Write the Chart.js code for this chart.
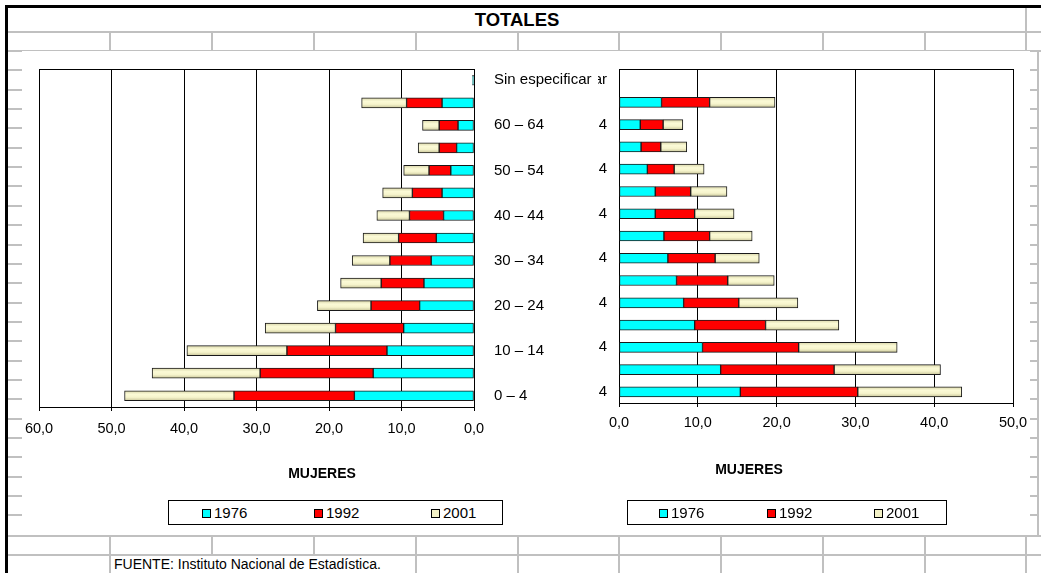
<!DOCTYPE html>
<html lang="es">
<head>
<meta charset="utf-8">
<title>TOTALES</title>
<script src="https://cdn.jsdelivr.net/npm/chart.js@4.4.1/dist/chart.umd.min.js"></script>
<style>
  html, body { margin: 0; padding: 0; background: #fff; }
  body { width: 1041px; height: 573px; position: relative; overflow: hidden;
         font-family: "Liberation Sans", Arial, sans-serif; color: #000; }
  .ln { position: absolute; background: #c0c0c0; }
  .negro { position: absolute; background: #000; }
  .caja { position: absolute; background: #fff; }
  .txt { position: absolute; white-space: nowrap; }
  .leyenda { position: absolute; border: 1px solid #000; background: #fff; box-sizing: border-box; }
  .item { position: absolute; font-size: 15px; line-height: 15px; top: 4px; }
  .marca { position: absolute; width: 7px; height: 7px; border: 1px solid #000; left: 0; top: 4px; }
</style>
</head>
<body>
<div id="hoja"></div>

<div class="txt" style="left:8px;width:1018px;top:9px;text-align:center;font-weight:bold;font-size:18.5px;">TOTALES</div>

<div class="caja" style="left:22px;top:51px;width:576px;height:479px;"><canvas id="graficoIzq"></canvas></div>
<div class="caja" style="left:598px;top:51px;width:432px;height:479px;"><canvas id="graficoDer"></canvas></div>

<div class="txt" style="left:322px;top:465px;transform:translateX(-50%);font-weight:bold;font-size:14px;">MUJERES</div>
<div class="txt" style="left:749px;top:461px;transform:translateX(-50%);font-weight:bold;font-size:14px;">MUJERES</div>

<div class="leyenda" id="leyendaIzq" style="left:168px;top:500px;width:335px;height:25px;"></div>
<div class="leyenda" id="leyendaDer" style="left:627px;top:500px;width:320px;height:25px;"></div>

<div class="txt" style="left:114px;top:556px;font-size:14px;">FUENTE: Instituto Nacional de Estadística.</div>

<script>
// --- DATOS ---
const grupos = ['0 – 4', '5 – 9', '10 – 14', '15 – 19', '20 – 24', '25 – 29', '30 – 34',
    '35 – 39', '40 – 44', '45 – 49', '50 – 54', '55 – 59', '60 – 64', '65 y más', 'Sin especificar'];
const anios = ['1976', '1992', '2001'];

// Gráfico izquierdo
const izq1976 = [16.5, 13.9, 12.0, 9.7, 7.5, 6.9, 5.9, 5.2, 4.2, 4.4, 3.2, 2.4, 2.2, 4.4, 0.2];
const izq1992 = [16.6, 15.6, 13.8, 9.4, 6.7, 5.9, 5.7, 5.2, 4.7, 4.1, 3.0, 2.4, 2.6, 4.9, null];
const izq2001 = [15.1, 14.9, 13.8, 9.7, 7.4, 5.6, 5.2, 4.9, 4.5, 4.1, 3.5, 2.9, 2.3, 6.2, null];

// Gráfico derecho
const der1976 = [15.4, 12.9, 10.6, 9.6, 8.2, 7.3, 6.2, 5.7, 4.6, 4.6, 3.6, 2.8, 2.7, 5.4, null];
const der1992 = [14.9, 14.4, 12.2, 9.0, 7.0, 6.5, 6.0, 5.8, 5.0, 4.5, 3.4, 2.5, 2.9, 6.1, null];
const der2001 = [13.2, 13.5, 12.5, 9.3, 7.5, 5.9, 5.6, 5.4, 5.0, 4.6, 3.8, 3.3, 2.5, 8.3, null];

const colores = ['#00ffff', '#ff0000', '#f3f1c6'];
const fuenteEje = { family: "'Liberation Sans', Arial, sans-serif", size: 14.5 };
const fuenteGrupo = { family: "'Liberation Sans', Arial, sans-serif", size: 15 };

// --- Cuadrícula de la hoja de cálculo (decoración) ---
const hoja = document.getElementById('hoja');
const linea = (cls, x, y, w, h) => {
    const d = document.createElement('div');
    d.className = cls;
    d.style.cssText = `left:${x}px;top:${y}px;width:${w}px;height:${h}px;`;
    hoja.appendChild(d);
};
linea('negro', 5, 5, 1036, 3);
linea('negro', 5, 5, 3, 568);
[32, 51, 536, 555].forEach(y => linea('ln', 8, y - 1, 1033, 2));
[110, 212, 314, 416, 518, 619, 721, 823, 925, 1026].forEach(x => linea('ln', x - 1, 32, 2, 19));
linea('ln', 1025, 8, 2, 24);
[110, 416, 518, 619, 721, 823, 925, 1026].forEach(x => linea('ln', x - 1, 536, 2, 37));
[212, 314].forEach(x => linea('ln', x - 1, 536, 2, 19));
for (let y = 70.4; y < 530; y += 19.35) {
    linea('ln', 8, Math.round(y) - 1, 14, 2);
    linea('ln', 1030, Math.round(y) - 1, 9, 2);
}
linea('ln', 1037, 51, 2, 485);

// Barra crema con brillo en el centro
const crema = (c) => {
    const chart = c.chart;
    const escala = chart.scales.y;
    if (!escala || !chart.chartArea) return colores[2];
    const y = escala.getPixelForValue(c.dataIndex);
    const g = chart.ctx.createLinearGradient(0, y - 5, 0, y + 5);
    g.addColorStop(0, '#d9d6aa');
    g.addColorStop(0.35, '#fbfad6');
    g.addColorStop(0.65, '#f6f4cc');
    g.addColorStop(1, '#c9c69a');
    return g;
};

// Borde superior del área de trazado
const marcoSuperior = {
    id: 'marcoSuperior',
    afterDraw(chart) {
        const { ctx, chartArea: a } = chart;
        ctx.save();
        ctx.strokeStyle = '#000';
        ctx.lineWidth = 1;
        ctx.beginPath();
        ctx.moveTo(a.left, Math.round(a.top) + 0.5);
        ctx.lineTo(a.right, Math.round(a.top) + 0.5);
        ctx.stroke();
        ctx.restore();
    }
};

const crearPiramide = (canvasId, series, o) => {
    return new Chart(document.getElementById(canvasId), {
        type: 'bar',
        data: {
            labels: grupos,
            datasets: series.map((d, i) => ({
                label: anios[i],
                data: d,
                backgroundColor: i === 2 ? crema : colores[i],
                borderColor: '#1a1a1a',
                borderWidth: 1,
                borderSkipped: false,
                barThickness: 10
            }))
        },
        options: {
            indexAxis: 'y',
            responsive: true,
            maintainAspectRatio: false,
            animation: false,
            layout: { padding: o.padding },
            plugins: { legend: { display: false }, tooltip: { enabled: false } },
            scales: {
                x: {
                    stacked: true,
                    min: 0,
                    max: o.max,
                    reverse: o.reverse,
                    grid: { color: '#000', lineWidth: 1, tickLength: 4 },
                    border: { color: '#000' },
                    ticks: {
                        stepSize: 10,
                        maxRotation: 0,
                        padding: o.tickPad,
                        color: '#000',
                        font: fuenteEje,
                        callback: v => v.toFixed(1).replace('.', ',')
                    },
                    afterFit: s => {
                        s.height = 40;
                        s.paddingLeft = 0;
                        s.paddingRight = 0;
                    }
                },
                y: {
                    stacked: true,
                    reverse: true,
                    position: o.lado,
                    grid: { display: false, drawTicks: false },
                    border: { display: true, color: '#000' },
                    ticks: {
                        autoSkip: false,
                        padding: o.labelPad,
                        color: '#000',
                        font: fuenteGrupo,
                        callback: function (v, i) { return i % 2 === 0 ? this.getLabelForValue(v) : ''; }
                    },
                    afterFit: s => {
                        s.width = o.ancho;
                        s.paddingTop = 0;
                        s.paddingBottom = 0;
                    }
                }
            }
        },
        plugins: [marcoSuperior]
    });
};

const graficoIzq = crearPiramide('graficoIzq', [izq1976, izq1992, izq2001], {
    max: 60, reverse: true, lado: 'right', ancho: 124, labelPad: 20, tickPad: 9,
    padding: { left: 17, top: 18, right: 0, bottom: 83 }
});
const graficoDer = crearPiramide('graficoDer', [der1976, der1992, der2001], {
    max: 50, reverse: false, lado: 'left', ancho: 21, labelPad: 12, tickPad: 7,
    padding: { left: 0, top: 18, right: 17, bottom: 87 }
});

// Leyendas con marco
const armarLeyenda = (id, chart, xs) => {
    const caja = document.getElementById(id);
    chart.data.datasets.forEach((ds, i) => {
        const it = document.createElement('div');
        it.className = 'item';
        it.style.left = xs[i] + 'px';
        it.style.paddingLeft = '12px';
        const m = document.createElement('span');
        m.className = 'marca';
        m.style.background = colores[i];
        it.appendChild(m);
        it.appendChild(document.createTextNode(ds.label));
        caja.appendChild(it);
    });
};
armarLeyenda('leyendaIzq', graficoIzq, [33, 145, 262]);
armarLeyenda('leyendaDer', graficoDer, [31, 139, 246]);
</script>
</body>
</html>
